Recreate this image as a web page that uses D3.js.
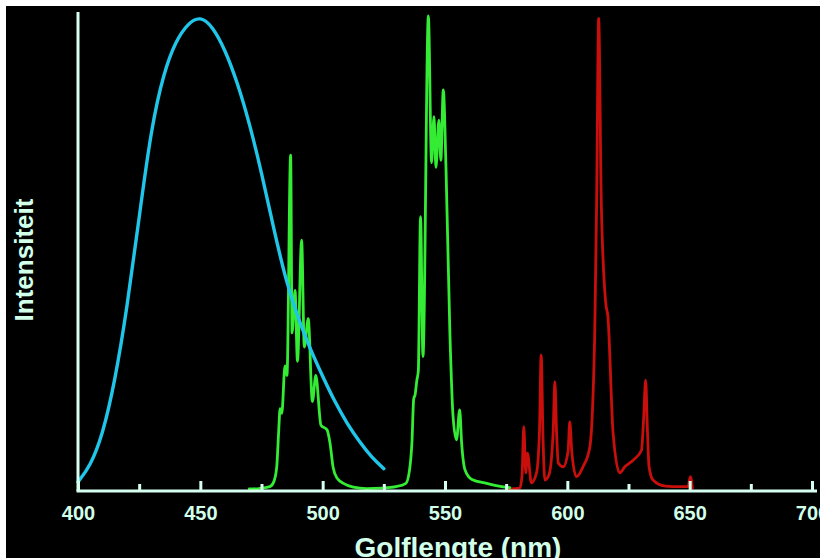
<!DOCTYPE html>
<html>
<head>
<meta charset="utf-8">
<script src="https://cdn.jsdelivr.net/npm/d3@7"></script>
<style>
  html, body { margin: 0; padding: 0; background: #ffffff; }
  svg { display: block; }
</style>
</head>
<body>
<svg id="chart" width="820" height="558"></svg>
<script>
// ---------- data ----------
const majorTicks = [400, 450, 500, 550, 600, 650, 700];
const minorTicks = [425, 475, 525, 575, 625, 675];
const xTitle = "Golflengte (nm)";
const yTitle = "Intensiteit";

const blueNm = [400,405,410,415,420,425,430,435,440,445,450,455,460,465,470,475,480,485,490,495,500,505,510,515,520,525];
const blueI  = [0.015,0.048,0.113,0.225,0.38,0.575,0.765,0.88,0.948,0.985,1.0,0.978,0.93,0.862,0.775,0.67,0.55,0.44,0.36,0.295,0.238,0.184,0.138,0.10,0.067,0.043];

const greenNm = [470,474,478.4,480,481.2,482,482.6,483.3,484.6,485.4,486.9,487.5,488.7,489.7,491.4,492.5,494.1,495.8,497.2,499.3,501.8,503,504.3,506,508.5,512.5,518,524,530,534,535.5,536.5,537.2,537.8,538.5,539.1,540,541,543.2,544.5,545.5,546.3,547.5,548.3,549.3,550.4,552,553.3,554.7,556,556.8,558.2,561,567,572,576.5];
const greenI  = [0,0.001,0.005,0.015,0.045,0.12,0.17,0.16,0.26,0.24,0.706,0.33,0.42,0.27,0.526,0.30,0.36,0.185,0.24,0.135,0.125,0.097,0.045,0.022,0.012,0.004,0.001,0.002,0.005,0.012,0.04,0.1,0.19,0.2,0.23,0.25,0.576,0.28,1.0,0.69,0.787,0.68,0.78,0.695,0.844,0.68,0.33,0.153,0.104,0.167,0.097,0.04,0.02,0.012,0.006,0.003];

const redNm = [576.5,580.6,581.5,582.2,583,583.7,585.3,587.4,588.6,589.3,590.1,590.8,592.5,594.2,594.9,595.6,596.3,598.3,600.3,601,601.8,603.7,606.4,609.2,611.2,612,612.8,613.9,615.7,616.6,618.7,621.4,623.5,626.9,630.3,631.2,632,632.7,633.4,635,640,643.2,649.3,650.3,651.1];
const redI  = [0,0.002,0.03,0.132,0.034,0.076,0.013,0.034,0.12,0.283,0.1,0.019,0.03,0.12,0.227,0.12,0.055,0.047,0.08,0.142,0.08,0.026,0.047,0.089,0.33,0.62,0.995,0.6,0.393,0.364,0.118,0.034,0.047,0.061,0.082,0.15,0.23,0.13,0.047,0.019,0.006,0.005,0.005,0.026,0.002];

// ---------- scales ----------
const svg = d3.select("#chart");
const x = d3.scaleLinear().domain([400, 700]).range([78, 812]);
const y = d3.scaleLinear().domain([0, 1]).range([489, 16]);

const axisColor = "#d6fff0";
const textColor = "#d2ffe9";

// background
svg.append("rect").attr("x", 6).attr("y", 6).attr("width", 814).attr("height", 552).attr("fill", "#000");

// ---------- curves ----------
function draw(nm, vals, color, w, curve) {
  const line = d3.line().x(d => x(d[0])).y(d => y(d[1])).curve(curve);
  svg.append("path")
    .datum(nm.map((n, i) => [n, vals[i]]))
    .attr("d", line)
    .attr("fill", "none")
    .attr("stroke", color)
    .attr("stroke-width", w)
    .attr("stroke-linejoin", "round")
    .attr("stroke-linecap", "round");
}
draw(redNm, redI, "#c80f0c", 2.8, d3.curveMonotoneX);
draw(greenNm, greenI, "#34ec34", 2.8, d3.curveMonotoneX);
draw(blueNm, blueI, "#20c6ea", 3.4, d3.curveBasis);

// ---------- axes ----------
const axisY = 491;
const minorAxis = d3.axisBottom(x).tickValues(minorTicks).tickSize(-7).tickFormat("");
const majorAxis = d3.axisBottom(x).tickValues(majorTicks).tickSize(-10).tickPadding(15)
  .tickFormat(d3.format("d"));

const gMinor = svg.append("g").attr("transform", `translate(0,${axisY})`).call(minorAxis);
gMinor.select(".domain").remove();
gMinor.selectAll(".tick line").attr("stroke", axisColor).attr("stroke-width", 3);

const gMajor = svg.append("g").attr("transform", `translate(0,${axisY})`).call(majorAxis);
gMajor.select(".domain").remove();
gMajor.selectAll(".tick line").attr("stroke", axisColor).attr("stroke-width", 3);
gMajor.selectAll(".tick text")
  .attr("fill", textColor)
  .attr("font-family", "Liberation Sans, Arial, sans-serif")
  .attr("font-weight", "bold")
  .attr("font-size", 20)
  .attr("dy", "0.71em");

// x axis line
svg.append("line").attr("x1", x(400) - 1.5).attr("x2", 817).attr("y1", axisY).attr("y2", axisY)
  .attr("stroke", axisColor).attr("stroke-width", 3);
// y axis line
svg.append("line").attr("x1", x(400)).attr("x2", x(400)).attr("y1", 12).attr("y2", axisY)
  .attr("stroke", axisColor).attr("stroke-width", 3);

// titles
svg.append("text")
  .attr("x", 458).attr("y", 557)
  .attr("text-anchor", "middle")
  .attr("fill", textColor)
  .attr("font-family", "Liberation Sans, Arial, sans-serif")
  .attr("font-weight", "bold")
  .attr("font-size", 28)
  .text(xTitle);

svg.append("text")
  .attr("transform", "translate(33,260) rotate(-90)")
  .attr("text-anchor", "middle")
  .attr("fill", textColor)
  .attr("font-family", "Liberation Sans, Arial, sans-serif")
  .attr("font-weight", "bold")
  .attr("font-size", 26)
  .text(yTitle);
</script>
</body>
</html>
